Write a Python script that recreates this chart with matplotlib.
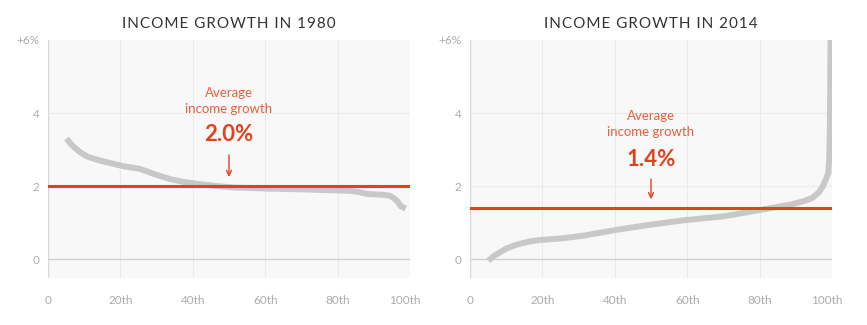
import matplotlib
matplotlib.use("Agg")
import matplotlib.pyplot as plt
from matplotlib.transforms import ScaledTranslation

plt.rcParams['font.family'] = ['Lato', 'DejaVu Sans']

# Data: income growth (%) by income percentile
pct_1980 = [5.1, 6.5, 8.8, 11.0, 14.3, 17.1, 21.0, 25.4, 29.5, 33.7, 37.5, 42.0, 46.5, 51.2, 60.5, 69.7, 79.0,
            83.6, 86.0, 88.2, 92.8, 94.5, 95.6, 96.6, 97.4, 98.8]
growth_1980 = [3.30, 3.13, 2.93, 2.80, 2.70, 2.63, 2.54, 2.47, 2.32, 2.19, 2.11, 2.05, 2.00, 1.96, 1.93, 1.91, 1.88,
               1.87, 1.83, 1.78, 1.76, 1.73, 1.66, 1.57, 1.45, 1.38]
pct_2014 = [5.1, 6.4, 8.0, 10.1, 12.5, 14.7, 17.0, 19.3, 25.8, 31.3, 40.5, 49.8, 59.0, 70.1, 81.1, 88.5,
            92.0, 94.5, 96.3, 97.4, 98.3, 99.0, 99.25, 99.4, 99.5, 99.6]
growth_2014 = [-0.05, 0.07, 0.17, 0.29, 0.38, 0.44, 0.49, 0.52, 0.57, 0.64, 0.80, 0.94, 1.06, 1.17, 1.36, 1.49,
               1.58, 1.67, 1.82, 1.98, 2.18, 2.36, 2.80, 3.50, 4.50, 6.00]
avg_growth = [2.0, 1.4]
titles = ["INCOME GROWTH IN 1980", "INCOME GROWTH IN 2014"]
avg_labels = ["2.0%", "1.4%"]
x_ticks = [0, 20, 40, 60, 80, 100]
x_ticklabels = ["0", "20th", "40th", "60th", "80th", "100th"]
y_ticks = [0, 2, 4, 6]
y_ticklabels = ["0", "2", "4", "+6%"]

RED = '#e4401e'
RED_TEXT = '#e8603c'
GRAY_LINE = '#c8c8c8'
TICK_COL = '#ababab'


def spaced(s):
    return "\u200a".join(s)


fig = plt.figure(figsize=(8.67, 3.25), dpi=100)
lefts = [48 / 867, 470 / 867]
w = 362 / 867
bottom = 1 - 278 / 325
h = 238 / 325

series = [(pct_1980, growth_1980), (pct_2014, growth_2014)]
text_y = [(4.55, 4.11, 3.40, 2.85, 2.25), (3.92, 3.48, 2.74, 2.19, 1.64)]

for i in range(2):
    ax = fig.add_axes([lefts[i], bottom, w, h])
    ax.set_facecolor('#f8f8f8')
    ax.set_xlim(0, 100)
    ax.set_ylim(-0.52, 6)
    for s in ax.spines.values():
        s.set_visible(False)
    for xv in [20, 40, 60, 80, 100]:
        ax.axvline(xv, color='#e9e9e9', lw=0.8, zorder=0)
    ax.axvline(0, color='#d8d8d8', lw=1.0, zorder=0)
    for yv in [2, 4]:
        ax.axhline(yv, color='#ebebeb', lw=0.8, zorder=0)
    ax.axhline(0, color='#d0d0d0', lw=1.0, zorder=0)

    xs, ys = series[i]
    ax.plot(xs, ys, color=GRAY_LINE, lw=4.3, solid_capstyle='butt', solid_joinstyle='round',
            zorder=2, clip_on=True)
    ax.axhline(avg_growth[i], color=RED, lw=2.2, zorder=3)

    ty = text_y[i]
    ax.text(50, ty[0], "Average", color=RED_TEXT, ha='center', va='center', fontsize=9.5)
    ax.text(50, ty[1], "income growth", color=RED_TEXT, ha='center', va='center', fontsize=9.5)
    ax.text(50, ty[2], avg_labels[i], color=RED, ha='center', va='center', fontsize=16, fontweight='bold')
    ax.annotate("", xy=(50, ty[4]), xytext=(50, ty[3]),
                arrowprops=dict(arrowstyle='->', color=RED, lw=1.0, mutation_scale=9,
                                shrinkA=0, shrinkB=0))

    ax.set_xticks(x_ticks)
    ax.set_xticklabels(x_ticklabels)
    ax.set_yticks(y_ticks)
    ax.set_yticklabels(y_ticklabels)
    ax.tick_params(length=0, colors=TICK_COL, labelsize=8.5)
    ax.tick_params(axis='x', pad=12)
    ax.tick_params(axis='y', pad=6)
    last = ax.get_xticklabels()[-1]
    last.set_transform(last.get_transform() + ScaledTranslation(-5 / 100, 0, fig.dpi_scale_trans))
    ax.set_title(spaced(titles[i]), color='#333333', fontsize=11, pad=9)

fig.savefig("out.png", dpi=100)
